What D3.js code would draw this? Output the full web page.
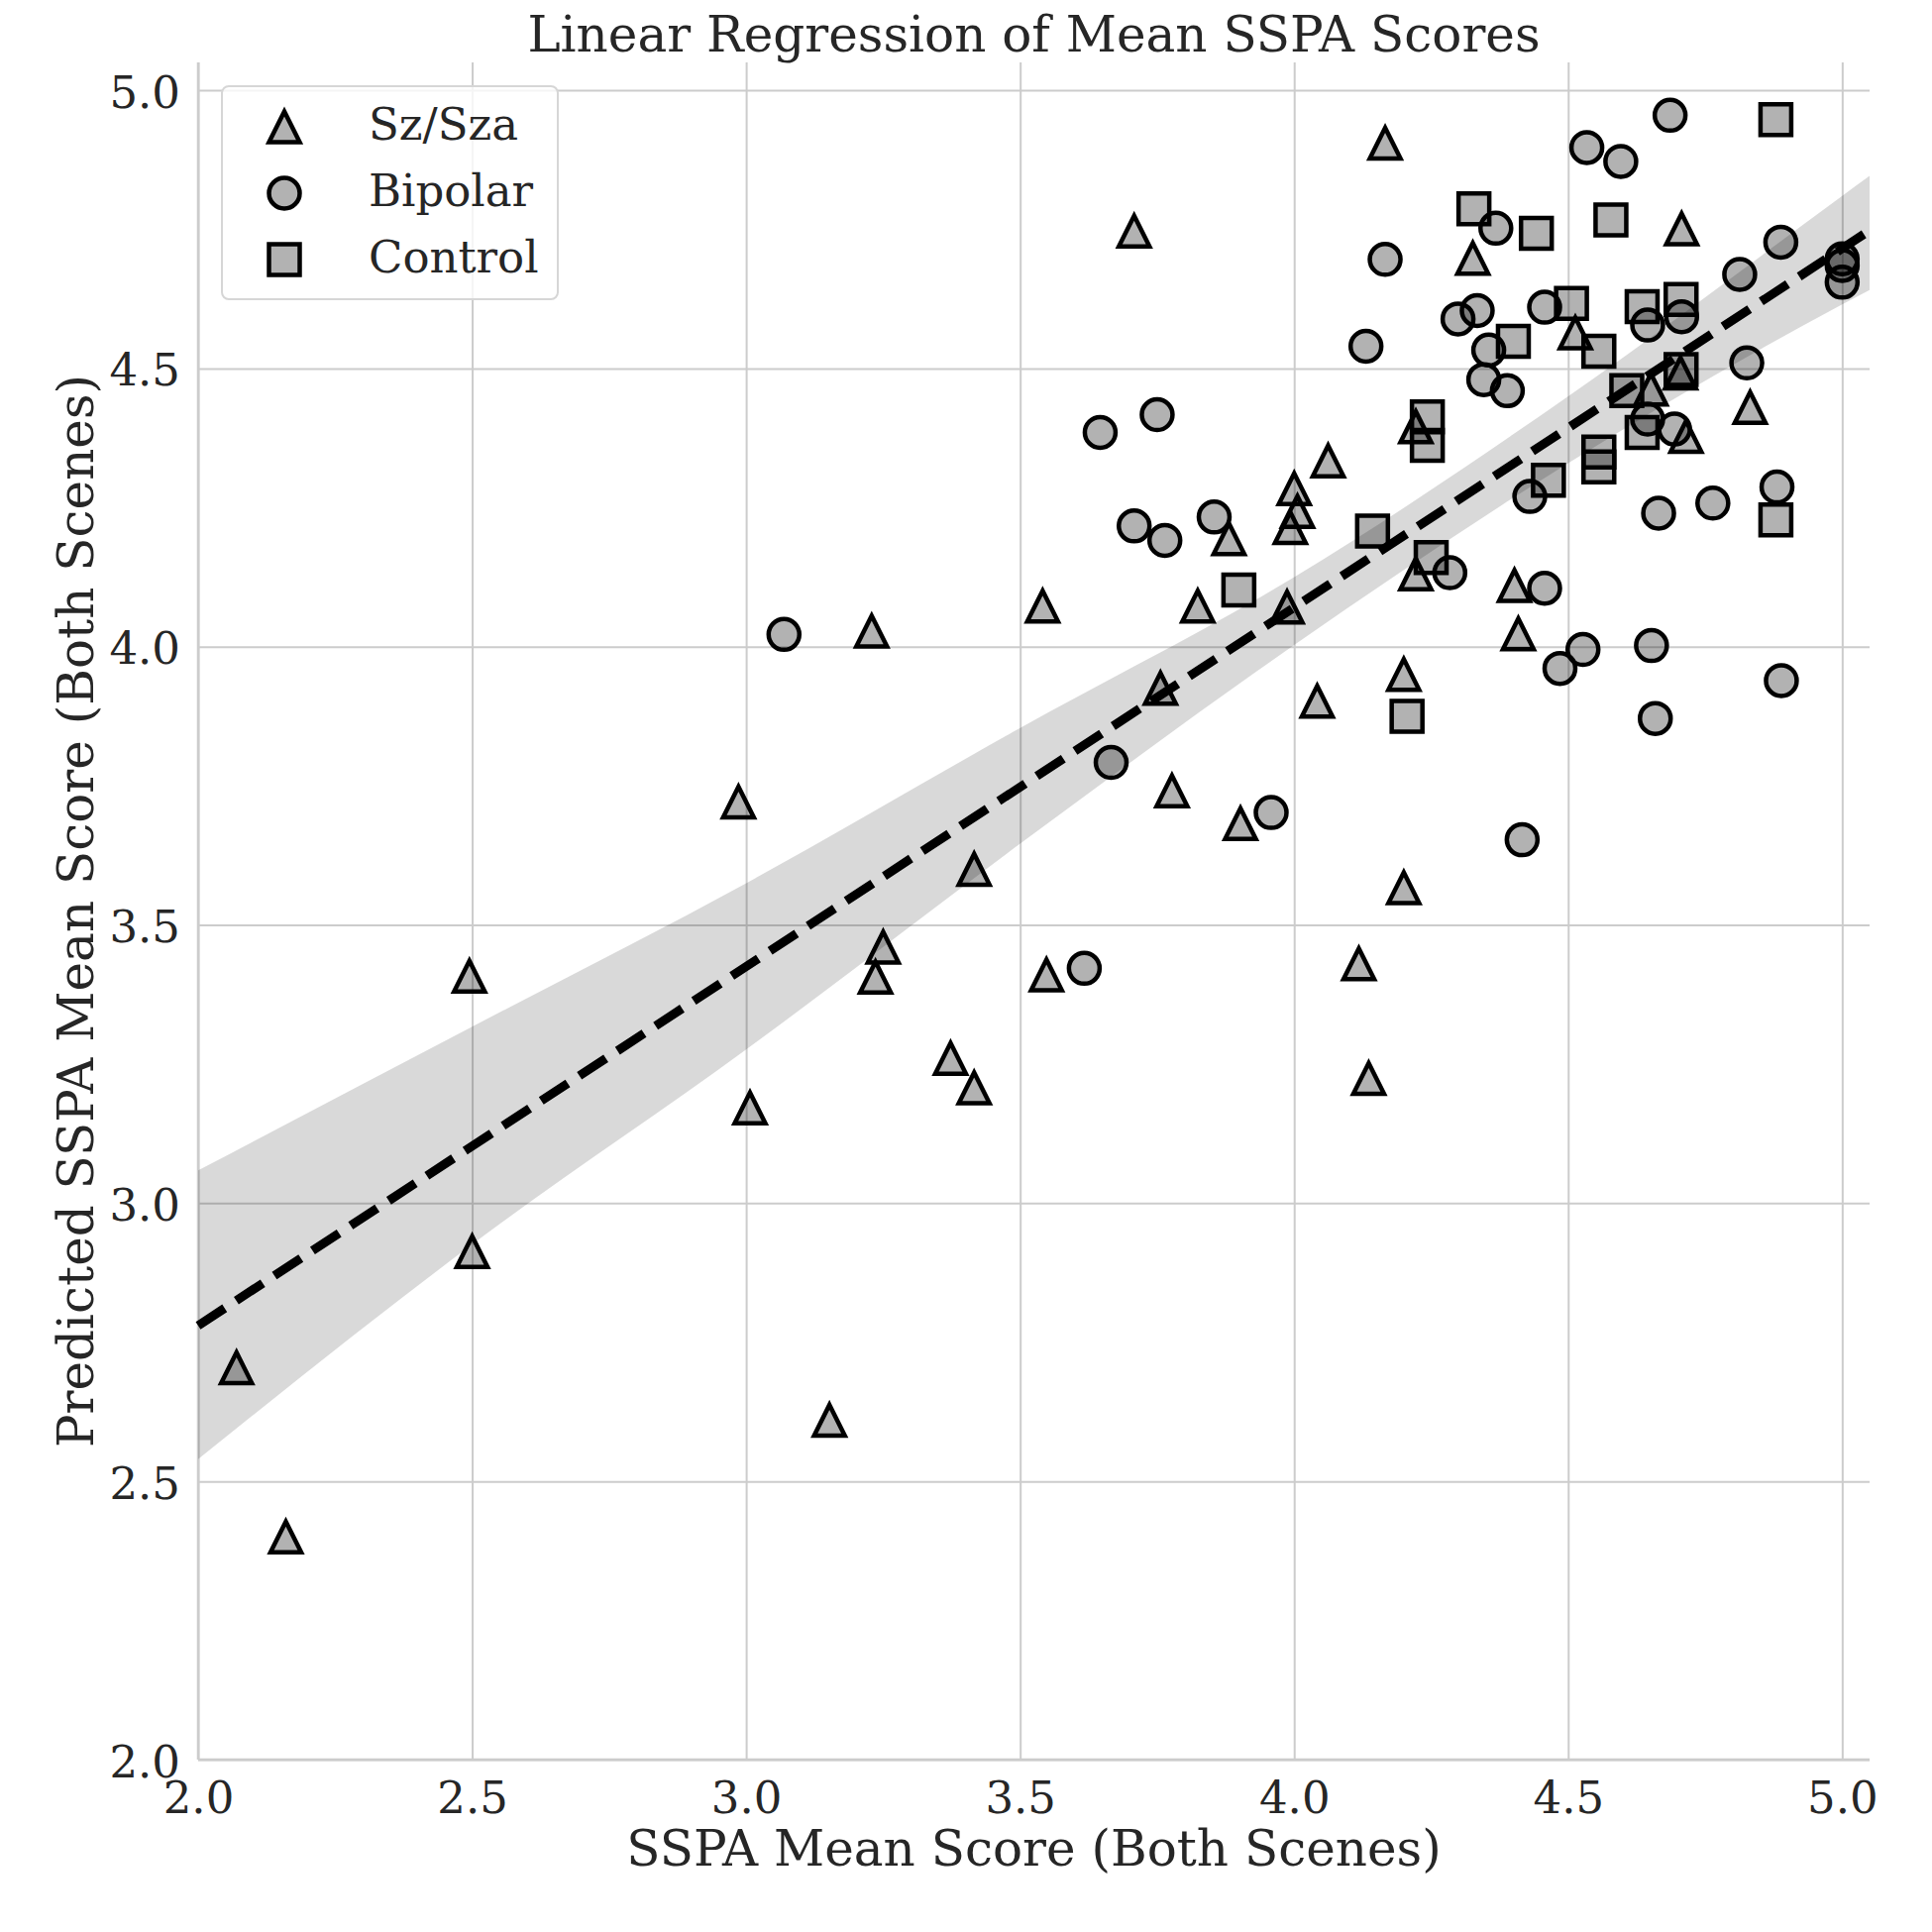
<!DOCTYPE html>
<html>
<head>
<meta charset="utf-8">
<script src="https://cdn.jsdelivr.net/npm/d3@7"></script>
<style>
  body { margin: 0; background: #ffffff; }
  svg text { font-family: "DejaVu Serif", serif; fill: #262626; }
</style>
</head>
<body>
<svg id="chart"></svg>
<script>
// values
const szX = [2.070, 2.160, 2.495, 2.500, 2.986, 3.007, 3.152, 3.229, 3.236, 3.250, 3.373, 3.416, 3.416, 3.541, 3.548,
             3.708, 3.756, 3.777, 3.824, 3.881, 3.902, 3.987, 3.993, 4.000, 4.006, 4.042, 4.062, 4.118, 4.136, 4.166,
             4.200, 4.200, 4.222, 4.222, 4.326, 4.402, 4.409, 4.513, 4.651, 4.705, 4.707, 4.715, 4.832];
const szY = [2.704, 2.400, 3.408, 2.913, 3.721, 3.171, 2.610, 4.028, 3.406, 3.460, 3.260, 3.207, 3.600, 4.073, 3.410,
             4.747, 3.925, 3.741, 4.073, 4.194, 3.682, 4.071, 4.214, 4.284, 4.243, 3.902, 4.334, 3.430, 3.224, 4.905,
             3.950, 3.567, 4.395, 4.131, 4.698, 4.110, 4.023, 4.564, 4.463, 4.492, 4.751, 4.378, 4.430];

const bipX = [3.069, 3.617, 3.646, 3.666, 3.708, 3.750, 3.764, 3.854, 3.958, 4.131, 4.166, 4.284, 4.299, 4.334, 4.346,
              4.355, 4.368, 4.389, 4.416, 4.430, 4.457, 4.457, 4.485, 4.527, 4.534, 4.596, 4.645, 4.645, 4.652, 4.659,
              4.665, 4.686, 4.694, 4.707, 4.764, 4.813, 4.826, 4.881, 4.888, 4.889, 5.000, 5.000, 5.000];
const bipY = [4.022, 3.422, 4.385, 3.792, 4.217, 4.417, 4.191, 4.233, 3.702, 4.540, 4.696, 4.133, 4.589, 4.604, 4.480,
              4.533, 4.752, 4.460, 3.653, 4.270, 4.610, 4.105, 3.961, 3.995, 4.897, 4.872, 4.578, 4.409, 4.002, 3.871,
              4.240, 4.955, 4.391, 4.593, 4.258, 4.669, 4.510, 4.287, 4.727, 3.939, 4.697, 4.685, 4.655];

const ctlX = [3.899, 4.143, 4.206, 4.243, 4.243, 4.250, 4.328, 4.400, 4.442, 4.464, 4.506, 4.556, 4.556, 4.556, 4.578,
              4.607, 4.635, 4.635, 4.706, 4.706, 4.879, 4.879];
const ctlY = [4.102, 4.208, 3.875, 4.413, 4.362, 4.160, 4.787, 4.549, 4.743, 4.299, 4.617, 4.531, 4.350, 4.323, 4.767,
              4.460, 4.611, 4.385, 4.624, 4.498, 4.947, 4.228];

const fitX = [2.0, 5.05];
const fitY = [2.78, 4.748];

const bandX  = [2.0, 2.5, 3.0, 3.5, 4.0, 4.5, 5.0, 5.05];
const bandHi = [3.059, 3.317, 3.575, 3.854, 4.125, 4.45, 4.81, 4.846];
const bandLo = [2.540, 2.926, 3.276, 3.646, 4.003, 4.33, 4.615, 4.641];

const tickVals = [2.0, 2.5, 3.0, 3.5, 4.0, 4.5, 5.0];
const groupNames = ["Sz/Sza", "Bipolar", "Control"];
const groupShapes = ["triangle", "circle", "square"];

let width = 1950, height = 1950;
let plot = {left: 200, right: 1887, top: 63, bottom: 1776};

let svg = d3.select("#chart").attr("width", width).attr("height", height);
svg.append("rect").attr("width", width).attr("height", height).attr("fill", "#ffffff");

let x = d3.scaleLinear().domain([2, 5.05]).range([plot.left, plot.right]);
let y = d3.scaleLinear().domain([2, 5.05]).range([plot.bottom, plot.top]);

function markerPath(shape) {
  let s = 15.5;
  if (shape == "circle") return `M${s},0A${s},${s} 0 1,1 ${-s},0A${s},${s} 0 1,1 ${s},0Z`;
  if (shape == "square") return `M${-s},${-s}H${s}V${s}H${-s}Z`;
  return `M0,${-s}L${s},${s}L${-s},${s}Z`;
}

// grid
let gx = svg.append("g")
  .attr("transform", `translate(0,${plot.bottom})`)
  .call(d3.axisBottom(x).tickValues(tickVals).tickSize(-(plot.bottom - plot.top)).tickFormat(""));
let gy = svg.append("g")
  .attr("transform", `translate(${plot.left},0)`)
  .call(d3.axisLeft(y).tickValues(tickVals).tickSize(-(plot.right - plot.left)).tickFormat(""));
[gx, gy].forEach(g => {
  g.select(".domain").remove();
  g.selectAll("line").attr("stroke", "#cccccc").attr("stroke-width", 2);
});

// spines (left + bottom only)
svg.append("line").attr("x1", plot.left).attr("x2", plot.left).attr("y1", plot.top).attr("y2", plot.bottom)
  .attr("stroke", "#cccccc").attr("stroke-width", 2.5);
svg.append("line").attr("x1", plot.left).attr("x2", plot.right).attr("y1", plot.bottom).attr("y2", plot.bottom)
  .attr("stroke", "#cccccc").attr("stroke-width", 2.5);

// tick labels
let xLab = svg.append("g")
  .attr("transform", `translate(0,${plot.bottom})`)
  .call(d3.axisBottom(x).tickValues(tickVals).tickSize(0).tickPadding(22).tickFormat(d3.format(".1f")));
xLab.select(".domain").remove();
xLab.selectAll("text").attr("font-size", 45).attr("font-family", "DejaVu Serif").attr("fill", "#262626");

let yLab = svg.append("g")
  .attr("transform", `translate(${plot.left},0)`)
  .call(d3.axisLeft(y).tickValues(tickVals).tickSize(0).tickPadding(18).tickFormat(d3.format(".1f")));
yLab.select(".domain").remove();
yLab.selectAll("text").attr("font-size", 45).attr("font-family", "DejaVu Serif").attr("fill", "#262626")
  .attr("dy", 17);

// scatter points
let groups = [
  {xs: szX, ys: szY, shape: groupShapes[0]},
  {xs: bipX, ys: bipY, shape: groupShapes[1]},
  {xs: ctlX, ys: ctlY, shape: groupShapes[2]}
];
groups.forEach(g => {
  let pts = g.xs.map((v, i) => ({x: v, y: g.ys[i]}));
  svg.append("g").selectAll("path").data(pts).enter().append("path")
    .attr("d", markerPath(g.shape))
    .attr("transform", d => `translate(${x(d.x)},${y(d.y)})`)
    .attr("fill", "#000000").attr("fill-opacity", 0.3)
    .attr("stroke", "#000000").attr("stroke-width", 4.5)
    .attr("stroke-linejoin", "miter");
});

// confidence band
let bandData = bandX.map((v, i) => ({x: v, lo: bandLo[i], hi: bandHi[i]}));
svg.append("path")
  .datum(bandData)
  .attr("d", d3.area().x(d => x(d.x)).y0(d => y(d.lo)).y1(d => y(d.hi)).curve(d3.curveMonotoneX))
  .attr("fill", "#000000").attr("fill-opacity", 0.15);

// regression line
let fitData = fitX.map((v, i) => ({x: v, y: fitY[i]}));
svg.append("path")
  .datum(fitData)
  .attr("d", d3.line().x(d => x(d.x)).y(d => y(d.y)))
  .attr("fill", "none").attr("stroke", "#000000").attr("stroke-width", 9)
  .attr("stroke-dasharray", "32,14");

// titles
svg.append("text").attr("x", (plot.left + plot.right) / 2).attr("y", 52)
  .attr("text-anchor", "middle").attr("font-size", 50)
  .text("Linear Regression of Mean SSPA Scores");
svg.append("text").attr("x", (plot.left + plot.right) / 2).attr("y", 1883)
  .attr("text-anchor", "middle").attr("font-size", 50)
  .text("SSPA Mean Score (Both Scenes)");
svg.append("text")
  .attr("transform", `translate(94,${(plot.top + plot.bottom) / 2}) rotate(-90)`)
  .attr("text-anchor", "middle").attr("font-size", 50)
  .text("Predicted SSPA Mean Score (Both Scenes)");

// legend
let legend = svg.append("g");
legend.append("rect").attr("x", 224).attr("y", 87).attr("width", 339).attr("height", 215).attr("rx", 7)
  .attr("fill", "#ffffff").attr("fill-opacity", 0.8).attr("stroke", "#d6d6d6").attr("stroke-width", 2);
groupNames.forEach((name, i) => {
  let ry = 128 + i * 67;
  legend.append("path").attr("d", markerPath(groupShapes[i]))
    .attr("transform", `translate(287,${ry})`)
    .attr("fill", "#000000").attr("fill-opacity", 0.3)
    .attr("stroke", "#000000").attr("stroke-width", 4.5);
  legend.append("text").attr("x", 372).attr("y", ry + 13).attr("font-size", 45).text(name);
});
</script>
</body>
</html>
